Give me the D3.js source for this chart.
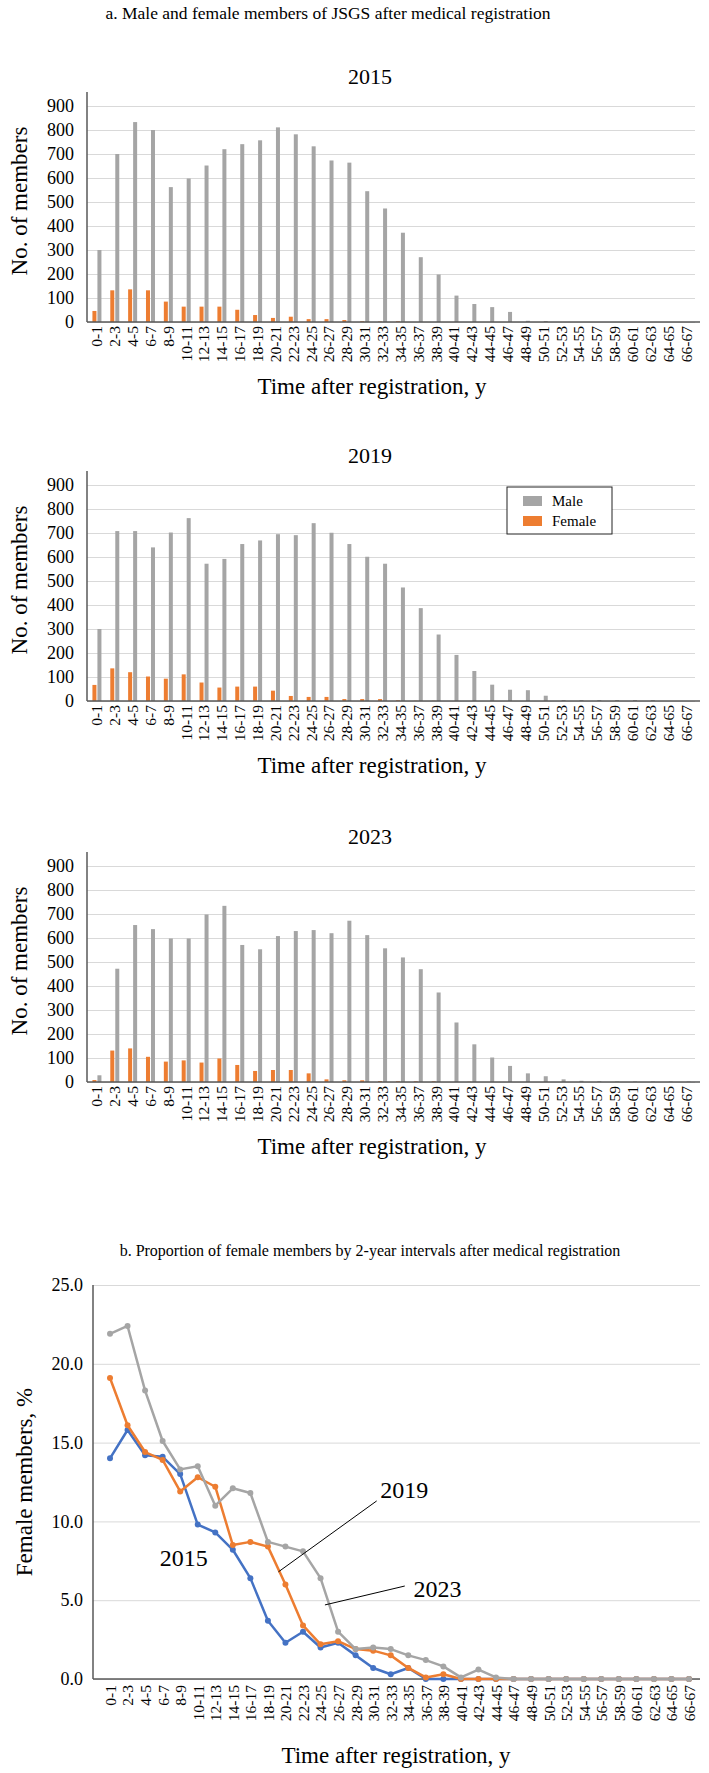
<!doctype html>
<html lang="en">
<head>
<meta charset="utf-8">
<title>JSGS members after medical registration</title>
<script src="https://d3js.org/d3.v7.min.js"></script>
<style>
    body { margin: 0; background: white; }
    svg text { font-family: "Liberation Serif", "Times New Roman", serif; fill: #000; }
</style>
</head>
<body>
<svg id="svg" width="709" height="1773"></svg>
<script>
// ---- data ----
const categories = ["0-1", "2-3", "4-5", "6-7", "8-9", "10-11", "12-13", "14-15", "16-17", "18-19",
    "20-21", "22-23", "24-25", "26-27", "28-29", "30-31", "32-33", "34-35", "36-37", "38-39",
    "40-41", "42-43", "44-45", "46-47", "48-49", "50-51", "52-53", "54-55", "56-57", "58-59",
    "60-61", "62-63", "64-65", "66-67"];

const male2015 = [300, 700, 833, 800, 562, 598, 652, 720, 741, 757, 811, 782, 732, 673, 664, 545, 473, 372, 270, 198,
    110, 75, 62, 42, 5, 4, 0, 0, 0, 0, 0, 0, 0, 0];
const female2015 = [46, 132, 136, 132, 85, 64, 64, 64, 51, 29, 17, 22, 12, 12, 8, 3, 2, 3, 0, 0,
    0, 0, 0, 0, 0, 0, 0, 0, 0, 0, 0, 0, 0, 0];

const male2019 = [300, 708, 708, 640, 702, 762, 572, 592, 654, 669, 695, 691, 741, 701, 654, 601, 572, 473, 387, 277,
    192, 125, 68, 47, 45, 22, 4, 4, 4, 4, 4, 4, 0, 0];
const female2019 = [67, 136, 120, 102, 93, 111, 77, 56, 60, 60, 43, 21, 17, 17, 8, 8, 8, 3, 1, 1,
    0, 0, 0, 0, 0, 0, 0, 0, 0, 0, 0, 0, 0, 0];

const male2023 = [28, 472, 654, 637, 598, 598, 698, 734, 571, 553, 608, 629, 633, 620, 672, 612, 557, 519, 470, 373,
    248, 157, 102, 67, 36, 24, 11, 5, 3, 2, 2, 2, 2, 2];
const female2023 = [8, 131, 140, 105, 85, 90, 81, 98, 71, 46, 50, 50, 36, 11, 7, 7, 4, 3, 3, 3,
    0, 1, 0, 0, 0, 0, 0, 0, 0, 0, 0, 0, 0, 0];

const yTicksBars = [0, 100, 200, 300, 400, 500, 600, 700, 800, 900];

// proportion of female members, %
const pct2015 = [14.0, 15.8, 14.2, 14.1, 13.0, 9.8, 9.3, 8.2, 6.4, 3.7, 2.3, 3.0, 2.0, 2.3, 1.5, 0.7, 0.3, 0.7, 0, 0,
    0, 0, 0, 0, 0, 0, 0, 0, 0, 0, 0, 0, 0, 0];
const pct2019 = [19.1, 16.1, 14.4, 13.9, 11.9, 12.8, 12.2, 8.5, 8.7, 8.4, 6.0, 3.4, 2.2, 2.4, 1.9, 1.8, 1.5, 0.7, 0.1, 0.3,
    0, 0, 0, 0, 0, 0, 0, 0, 0, 0, 0, 0, 0, 0];
const pct2023 = [21.9, 22.4, 18.3, 15.1, 13.3, 13.5, 11.0, 12.1, 11.8, 8.7, 8.4, 8.1, 6.4, 3.0, 1.9, 2.0, 1.9, 1.5, 1.2, 0.8,
    0.1, 0.6, 0.1, 0, 0, 0, 0, 0, 0, 0, 0, 0, 0, 0];

const yTicksPct = [0, 5, 10, 15, 20, 25];

const seriesNames = ["Male", "Female"];
const barColors = ["#a5a5a5", "#ed7d31"];
const lineColors = { "2015": "#4472c4", "2019": "#ed7d31", "2023": "#a5a5a5" };

// ---- drawing ----
let svg = d3.select("#svg");
const serif = '"Liberation Serif", "Times New Roman", serif';
const gridColor = "#d9d9d9";
const axisColor = "#595959";

svg.append("text")
    .attr("x", 328).attr("y", 19)
    .attr("text-anchor", "middle")
    .style("font-size", "17.5px")
    .text("a. Male and female members of JSGS after medical registration");

function barChart(year, male, female, top) {
    let g = svg.append("g");
    let left = 87, right = 695;
    let zero = top + 216;

    let xScale = d3.scaleBand().domain(categories).range([88, 695]);
    let yScale = d3.scaleLinear().domain([0, 900]).range([zero, top]);

    // gridlines + tick labels
    let yAxis = g.append("g")
        .attr("transform", `translate(${left},0)`)
        .call(d3.axisLeft(yScale).tickValues(yTicksBars).tickSize(-(right - left)).tickPadding(13))
        .attr("font-family", serif);
    yAxis.select(".domain").remove();
    yAxis.selectAll("line").attr("stroke", gridColor);
    yAxis.selectAll("text").style("font-family", serif).style("font-size", "18px");

    // bars
    let c = i => xScale(categories[i]) + xScale.bandwidth() / 2;
    g.selectAll(".female").data(female).join("rect")
        .attr("x", (d, i) => c(i) - 4.5)
        .attr("width", 4)
        .attr("y", d => yScale(d))
        .attr("height", d => zero - yScale(d))
        .attr("fill", barColors[1]);
    g.selectAll(".male").data(male).join("rect")
        .attr("x", (d, i) => c(i) + 0.5)
        .attr("width", 4)
        .attr("y", d => yScale(d))
        .attr("height", d => zero - yScale(d))
        .attr("fill", barColors[0]);

    // axis lines
    g.append("line").attr("x1", left).attr("x2", 700).attr("y1", zero).attr("y2", zero)
        .attr("stroke", axisColor).attr("stroke-width", 1.5);
    g.append("line").attr("x1", left).attr("x2", left).attr("y1", top - 14).attr("y2", zero)
        .attr("stroke", axisColor).attr("stroke-width", 1.5);

    // category labels
    let xAxis = g.append("g")
        .attr("transform", `translate(0,${zero})`)
        .call(d3.axisBottom(xScale).tickSize(0))
        .attr("font-family", serif);
    xAxis.select(".domain").remove();
    xAxis.selectAll("text")
        .attr("transform", "rotate(-90)")
        .attr("x", -4).attr("y", 0).attr("dy", "0.35em")
        .style("text-anchor", "end")
        .style("font-family", serif)
        .style("font-size", "15.5px");

    g.append("text")
        .attr("x", 370).attr("y", top - 22)
        .attr("text-anchor", "middle")
        .style("font-size", "22px")
        .text(year);

    g.append("text")
        .attr("x", 372).attr("y", zero + 72)
        .attr("text-anchor", "middle")
        .style("font-size", "23px")
        .text("Time after registration, y");

    g.append("text")
        .attr("transform", `translate(27,${top + 95}) rotate(-90)`)
        .attr("text-anchor", "middle")
        .style("font-size", "23px")
        .text("No. of members");
    return g;
}

barChart("2015", male2015, female2015, 106);
let g2019 = barChart("2019", male2019, female2019, 485);
barChart("2023", male2023, female2023, 866);

// legend in the 2019 panel
let legend = g2019.append("g").attr("transform", "translate(507,487)");
legend.append("rect").attr("width", 105).attr("height", 47)
    .attr("fill", "white").attr("stroke", "#222").attr("stroke-width", 1);
legend.selectAll(".sw").data(seriesNames).join("rect")
    .attr("x", 16).attr("y", (d, i) => 9 + i * 20)
    .attr("width", 19).attr("height", 10)
    .attr("fill", (d, i) => barColors[i]);
legend.selectAll(".lt").data(seriesNames).join("text")
    .attr("x", 45).attr("y", (d, i) => 19 + i * 20)
    .style("font-size", "15px")
    .text(d => d);

// ---- b. line chart ----
function lineChart() {
    let g = svg.append("g");
    let left = 93, right = 700, zero = 1679, top = 1285;

    svg.append("text")
        .attr("x", 370).attr("y", 1256)
        .attr("text-anchor", "middle")
        .style("font-size", "16px")
        .text("b. Proportion of female members by 2-year intervals after medical registration");

    let xScale = d3.scalePoint().domain(categories).range([110, 689]);
    let xIdx = d3.scaleLinear().domain([0, categories.length - 1]).range([110, 689]);
    let yScale = d3.scaleLinear().domain([0, 25]).range([zero, top]);

    let yAxis = g.append("g")
        .attr("transform", `translate(${left},0)`)
        .call(d3.axisLeft(yScale).tickValues(yTicksPct).tickFormat(d3.format(".1f"))
            .tickSize(-(right - left)).tickPadding(10))
        .attr("font-family", serif);
    yAxis.select(".domain").remove();
    yAxis.selectAll("line").attr("stroke", gridColor);
    yAxis.selectAll("text").style("font-family", serif).style("font-size", "18px");

    g.append("line").attr("x1", left).attr("x2", right).attr("y1", zero).attr("y2", zero)
        .attr("stroke", axisColor).attr("stroke-width", 1.5);
    g.append("line").attr("x1", left).attr("x2", left).attr("y1", top).attr("y2", zero)
        .attr("stroke", axisColor).attr("stroke-width", 1.5);

    let xAxis = g.append("g")
        .attr("transform", `translate(0,${zero})`)
        .call(d3.axisBottom(xScale).tickSize(0))
        .attr("font-family", serif);
    xAxis.select(".domain").remove();
    xAxis.selectAll("text")
        .attr("transform", "rotate(-90)")
        .attr("x", -6).attr("y", 0).attr("dy", "0.35em")
        .style("text-anchor", "end")
        .style("font-family", serif)
        .style("font-size", "15.5px");

    let series = [["2015", pct2015], ["2019", pct2019], ["2023", pct2023]];
    let line = d3.line().x((d, i) => xScale(categories[i])).y(d => yScale(d));
    series.forEach(([name, values]) => {
        g.append("path").datum(values)
            .attr("d", line)
            .attr("fill", "none")
            .attr("stroke", lineColors[name])
            .attr("stroke-width", 2.5)
            .attr("stroke-linejoin", "round");
        g.selectAll(".p" + name).data(values).join("circle")
            .attr("cx", (d, i) => xScale(categories[i]))
            .attr("cy", d => yScale(d))
            .attr("r", 3)
            .attr("fill", lineColors[name]);
    });

    // series labels (category index, value) with leader lines
    let notes = [
        { text: "2015", at: [4.2, 7.2], anchor: "middle" },
        { text: "2019", at: [15.4, 11.5], anchor: "start", from: [15.2, 11.3], to: [9.6, 6.8] },
        { text: "2023", at: [17.3, 5.2], anchor: "start", from: [16.8, 5.9], to: [12.25, 4.7] }
    ];
    notes.forEach(n => {
        if (n.from) {
            g.append("line")
                .attr("x1", xIdx(n.from[0])).attr("y1", yScale(n.from[1]))
                .attr("x2", xIdx(n.to[0])).attr("y2", yScale(n.to[1]))
                .attr("stroke", "#000").attr("stroke-width", 1);
        }
        g.append("text")
            .attr("x", xIdx(n.at[0])).attr("y", yScale(n.at[1]))
            .attr("text-anchor", n.anchor)
            .style("font-size", "24px")
            .text(n.text);
    });

    g.append("text")
        .attr("x", 396).attr("y", 1763)
        .attr("text-anchor", "middle")
        .style("font-size", "23px")
        .text("Time after registration, y");

    g.append("text")
        .attr("transform", `translate(32,${(top + zero) / 2}) rotate(-90)`)
        .attr("text-anchor", "middle")
        .style("font-size", "23px")
        .text("Female members, %");
}

lineChart();
</script>
</body>
</html>
